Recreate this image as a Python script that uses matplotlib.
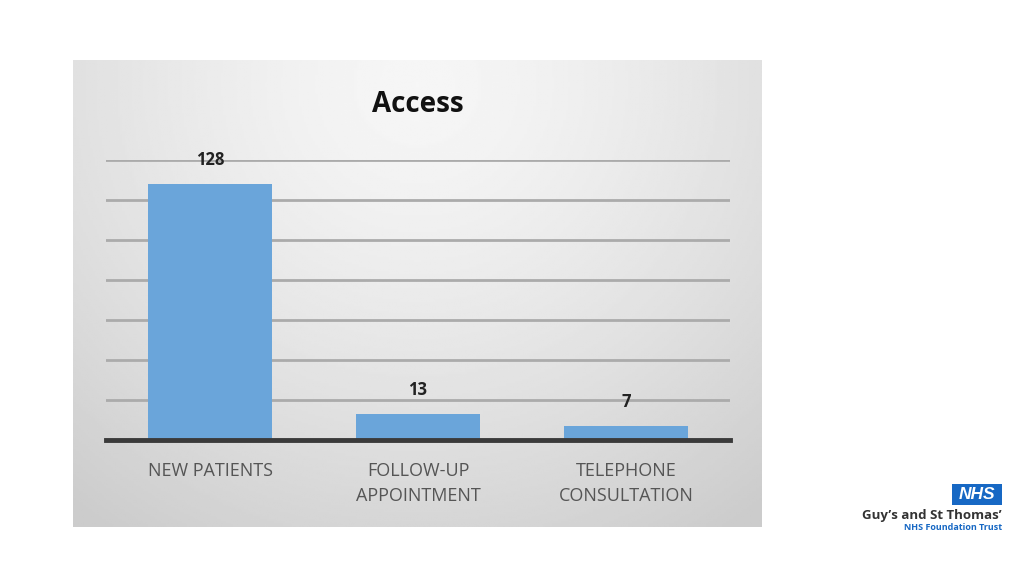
import numpy as np
import matplotlib
matplotlib.use("Agg")
import matplotlib.pyplot as plt
from matplotlib.patches import Rectangle

categories = ["NEW PATIENTS", "FOLLOW-UP\nAPPOINTMENT", "TELEPHONE\nCONSULTATION"]
values = [128, 13, 7]
title = "Access"

W, H = 1024, 576
fig = plt.figure(figsize=(W / 100, H / 100), dpi=100)
fig.patch.set_facecolor("white")

def fx(px):
    return px / W

def fy(py):
    return 1 - py / H

# gradient panel
pl, pr, pt, pb = 73, 762, 60, 527
bg = fig.add_axes([fx(pl), fy(pb), fx(pr - pl), fy(pt) - fy(pb)])
ny, nx = 200, 300
yy, xx = np.mgrid[0:1:ny * 1j, 0:1:nx * 1j]
d = np.sqrt(((xx - 0.5) / 0.8) ** 2 + ((yy - 0.05) / 1.15) ** 2)
d = np.clip(d, 0, 1)
light, dark = 0.965, 0.80
img = light - (light - dark) * d ** 1.4
bg.imshow(img, cmap="gray", vmin=0, vmax=1, aspect="auto", extent=[0, 1, 1, 0])
bg.set_axis_off()

# chart axes
al, ar, at, ab = 106, 730, 160, 440
ax = fig.add_axes([fx(al), fy(ab), fx(ar - al), fy(at) - fy(ab)])
ax.set_facecolor("none")
x = np.arange(len(categories))
ax.bar(x, values, width=0.6, color="#6aa5da", zorder=3)
ax.set_xlim(-0.5, len(categories) - 0.5)
ax.set_ylim(0, 140)
ax.set_yticks(np.arange(20, 141, 20))
ax.yaxis.grid(True, color="#ababab", linewidth=2, zorder=1)
ax.tick_params(axis="y", left=False, labelleft=False)
ax.tick_params(axis="x", bottom=False, pad=12.5)
ax.set_xticks(x)
ax.set_xticklabels(categories, fontsize=13, color="#555555", family="Open Sans",
                   linespacing=1.45, va="top")
for s in ["top", "right", "left"]:
    ax.spines[s].set_visible(False)
ax.spines["bottom"].set_color("#3a3a3a")
ax.spines["bottom"].set_linewidth(3.5)
ax.spines["bottom"].set_zorder(4)

for xi, v in zip(x, values):
    ax.annotate(str(v), (xi, v), xytext=(0, 17), textcoords="offset points",
                ha="center", va="center", fontsize=12, fontweight="bold",
                color="#222222", family="Open Sans", annotation_clip=False)

fig.text(fx(418), fy(104), title, ha="center", va="center", fontsize=20,
         fontweight="bold", color="#111111", family="Open Sans")

# NHS logo
fig.patches.append(Rectangle((fx(952), fy(505)), fx(50), fy(484) - fy(505),
                             transform=fig.transFigure, facecolor="#1768c4",
                             edgecolor="none"))
fig.text(fx(977), fy(494.5), "NHS", ha="center", va="center", fontsize=12.5,
         fontweight="bold", style="italic", color="white", family="Liberation Sans")
fig.text(fx(1002), fy(515), "Guy\u2019s and St Thomas\u2019", ha="right", va="center",
         fontsize=9.5, fontweight="bold", color="#333333", family="Open Sans")
fig.text(fx(1002), fy(528), "NHS Foundation Trust", ha="right", va="center",
         fontsize=6.5, fontweight="bold", color="#1768c4", family="Open Sans")

fig.savefig("out.png", dpi=100)
